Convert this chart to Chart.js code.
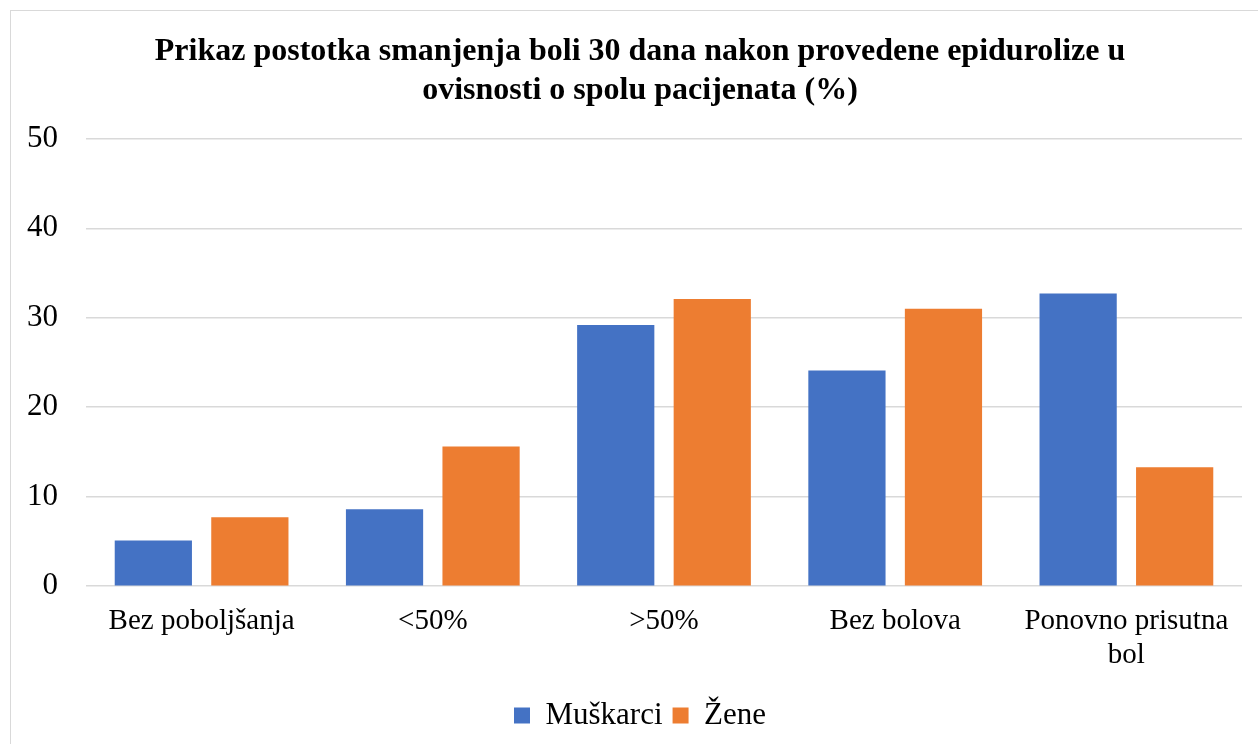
<!DOCTYPE html>
<html>
<head>
<meta charset="utf-8">
<script src="https://cdn.jsdelivr.net/npm/chart.js@4"></script>
<style>
  html, body { margin: 0; padding: 0; background: #fff; overflow: hidden; }
  #wrap { position: absolute; left: 0; top: 0; width: 1258px; height: 744px; }
  #frame { position: absolute; left: 10px; top: 10px; width: 1300px; height: 800px; border: 1px solid #d9d9d9; pointer-events: none; }
</style>
</head>
<body>
<div id="wrap"><canvas id="chart" width="1258" height="744"></canvas></div>
<div id="frame"></div>
<script>
// Data
const categories = ['Bez poboljšanja', '<50%', '>50%', 'Bez bolova', ['Ponovno prisutna', 'bol']];
const muskarci = [5.1, 8.6, 29.2, 24.1, 32.7];
const zene = [7.7, 15.6, 32.1, 31.0, 13.3];
const titleLines = ['Prikaz postotka smanjenja boli 30 dana nakon provedene epidurolize u', 'ovisnosti o spolu pacijenata (%)'];

const BLUE = '#4472c4';
const ORANGE = '#ed7d31';
const SERIF = '"Liberation Serif", "Times New Roman", serif';

const ctx = document.getElementById('chart').getContext('2d');

new Chart(ctx, {
  type: 'bar',
  data: {
    labels: categories,
    datasets: [
      { label: 'Muškarci', data: muskarci, backgroundColor: BLUE, borderWidth: 0 },
      { label: 'Žene', data: zene, backgroundColor: ORANGE, borderWidth: 0 },
    ],
  },
  options: {
    responsive: false,
    animation: false,
    devicePixelRatio: 1,
    categoryPercentage: 0.835,
    barPercentage: 0.8,
    // title and legend centre on x=640 like the reference
    layout: { padding: { left: 22, right: 0, top: 10, bottom: 3 } },
    plugins: {
      title: {
        display: true,
        text: titleLines,
        color: '#000',
        font: { family: SERIF, size: 32, weight: 'bold', lineHeight: 1.2 },
        padding: { top: 23, bottom: 29 },
      },
      legend: {
        position: 'bottom',
        labels: {
          color: '#000',
          font: { family: SERIF, size: 31 },
          boxWidth: 16,
          boxHeight: 16,
          padding: 10,
        },
      },
      tooltip: { enabled: false },
    },
    scales: {
      x: {
        grid: { display: false, drawTicks: false },
        border: { display: false },
        ticks: {
          color: '#000',
          maxRotation: 0,
          font: { family: SERIF, size: 29, lineHeight: 1.17 },
          padding: 18,
        },
        // plot area runs from x=87 to x=1242
        afterFit: s => { s.paddingLeft = 0; s.paddingRight = 16; },
      },
      y: {
        min: 0,
        max: 50,
        ticks: {
          stepSize: 10,
          color: '#000',
          font: { family: SERIF, size: 31 },
          padding: 28,
        },
        grid: { color: '#d9d9d9', lineWidth: 1.5, drawTicks: false },
        border: { display: false },
        afterFit: s => { s.width = 64; },
      },
    },
  },
});
</script>
</body>
</html>
